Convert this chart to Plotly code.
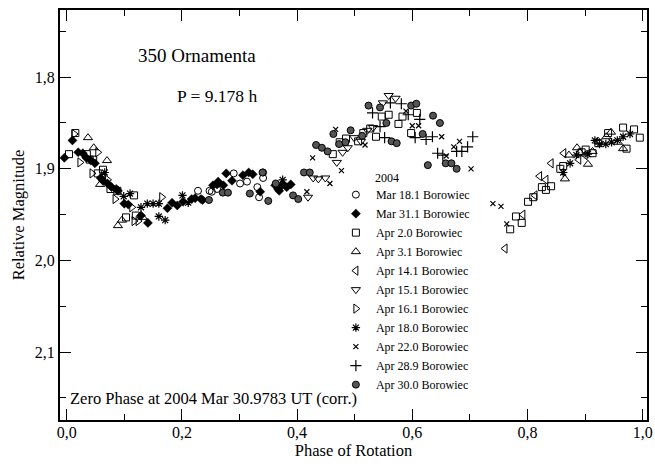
import plotly.graph_objects as go

# ---- data (phase, relative magnitude) ----
mar18_x = [0.228, 0.248, 0.252, 0.261, 0.290, 0.301, 0.313, 0.331, 0.334, 0.341, 0.341]
mar18_y = [1.924, 1.924, 1.925, 1.922, 1.905, 1.916, 1.914, 1.920, 1.931, 1.904, 1.910]

mar31_x = [-0.004, 0.010, 0.020, 0.028, 0.034, 0.042, 0.049, 0.059, 0.063, 0.071, 0.078, 0.086,
           0.089, 0.100, 0.107, 0.129, 0.141, 0.175, 0.183, 0.192, 0.202, 0.217, 0.223, 0.233,
           0.236, 0.254, 0.261, 0.263, 0.272, 0.277, 0.287, 0.306, 0.316, 0.323, 0.336, 0.362,
           0.367, 0.369, 0.375, 0.382, 0.389]
mar31_y = [1.888, 1.869, 1.882, 1.883, 1.888, 1.891, 1.894, 1.910, 1.913, 1.916, 1.920, 1.922,
           1.924, 1.938, 1.939, 1.951, 1.959, 1.943, 1.937, 1.940, 1.936, 1.933, 1.932, 1.933,
           1.934, 1.918, 1.917, 1.914, 1.918, 1.905, 1.913, 1.907, 1.904, 1.906, 1.925, 1.918,
           1.922, 1.924, 1.917, 1.920, 1.917]

apr02_x = [0.004, 0.015, 0.035, 0.040, 0.046, 0.054, 0.063, 0.076, 0.088, 0.103, 0.117, 0.120,
           0.462, 0.474, 0.485, 0.506, 0.515, 0.527, 0.537, 0.547, 0.559, 0.576, 0.583, 0.598, 0.608,
           0.770, 0.780, 0.790, 0.801, 0.810, 0.825, 0.832, 0.841, 0.857, 0.862, 0.894, 0.901,
           0.913, 0.923, 0.940, 0.966, 0.972, 0.985, 0.995]
apr02_y = [1.884, 1.861, 1.884, 1.890, 1.890, 1.905, 1.901, 1.922, 1.924, 1.953, 1.929, 1.951,
           1.884, 1.871, 1.867, 1.870, 1.861, 1.856, 1.865, 1.843, 1.841, 1.851, 1.843, 1.861, 1.839,
           1.966, 1.952, 1.959, 1.936, 1.931, 1.920, 1.923, 1.919, 1.900, 1.897, 1.882, 1.879,
           1.883, 1.872, 1.861, 1.855, 1.878, 1.857, 1.866]

apr03_x = [0.037, 0.047, 0.070, 0.058, 0.089, 0.096, 0.132,
           0.865, 0.872, 0.886, 0.891, 0.905, 0.913, 0.923, 0.937, 0.945, 0.957, 0.966]
apr03_y = [1.866, 1.877, 1.891, 1.917, 1.962, 1.956, 1.953,
           1.911, 1.885, 1.877, 1.882, 1.895, 1.881, 1.870, 1.865, 1.860, 1.871, 1.878]

apr14_x = [0.761, 0.792, 0.813, 0.821, 0.832, 0.841, 0.863, 0.889, 0.900]
apr14_y = [1.987, 1.950, 1.929, 1.908, 1.912, 1.894, 1.883, 1.890, 1.885]

apr15_x = [0.419, 0.428, 0.437, 0.449, 0.469, 0.479, 0.488, 0.499, 0.511, 0.522, 0.532,
           0.549, 0.559, 0.571]
apr15_y = [1.931, 1.910, 1.911, 1.910, 1.893, 1.882, 1.877, 1.866, 1.870, 1.858, 1.855,
           1.828, 1.820, 1.823]

apr16_x = [0.013, 0.054, 0.023, 0.044, 0.071, 0.084, 0.113, 0.117, 0.124, 0.165]
apr16_y = [1.862, 1.882, 1.893, 1.905, 1.912, 1.933, 1.942, 1.957, 1.957, 1.931]

apr18_x = [0.066, 0.099, 0.110, 0.129, 0.140, 0.150, 0.160, 0.160, 0.171, 0.201, 0.211, 0.375,
           0.862, 0.874, 0.885, 0.905, 0.917, 0.925, 0.936, 0.946, 0.956, 0.966, 0.978]
apr18_y = [1.904, 1.930, 1.927, 1.942, 1.938, 1.938, 1.938, 1.952, 1.956, 1.929, 1.937, 1.912,
           1.904, 1.894, 1.885, 1.884, 1.869, 1.873, 1.873, 1.871, 1.869, 1.865, 1.862]

apr22_x = [0.417, 0.427, 0.457, 0.467, 0.477, 0.518, 0.589, 0.600, 0.611, 0.651, 0.659, 0.672,
           0.682, 0.702, 0.740, 0.754, 0.764]
apr22_y = [1.925, 1.888, 1.916, 1.857, 1.902, 1.874, 1.837, 1.853, 1.853, 1.865, 1.886, 1.876,
           1.870, 1.900, 1.938, 1.941, 1.960]

apr28_x = [0.531, 0.544, 0.552, 0.562, 0.581, 0.593, 0.605, 0.613, 0.624, 0.635, 0.644, 0.653,
           0.677, 0.686, 0.696, 0.705]
apr28_y = [1.839, 1.854, 1.866, 1.828, 1.829, 1.841, 1.866, 1.846, 1.868, 1.865, 1.883, 1.885,
           1.881, 1.881, 1.876, 1.865]

apr30_x = [0.247, 0.271, 0.280, 0.318, 0.340, 0.350, 0.363, 0.393, 0.402, 0.412, 0.422, 0.433,
           0.443, 0.453, 0.463, 0.473, 0.484, 0.493, 0.513, 0.524, 0.544, 0.555, 0.564, 0.573,
           0.598, 0.607, 0.618, 0.627, 0.636, 0.648, 0.658, 0.668, 0.677]
apr30_y = [1.934, 1.926, 1.926, 1.927, 1.904, 1.935, 1.916, 1.929, 1.933, 1.904, 1.904, 1.874,
           1.877, 1.881, 1.862, 1.873, 1.871, 1.858, 1.864, 1.831, 1.833, 1.850, 1.870, 1.872,
           1.831, 1.829, 1.862, 1.896, 1.842, 1.850, 1.894, 1.894, 1.900]

series_names = ["Mar 18.1 Borowiec", "Mar 31.1 Borowiec", "Apr 2.0 Borowiec", "Apr 3.1 Borowiec",
                "Apr 14.1 Borowiec", "Apr 15.1 Borowiec", "Apr 16.1 Borowiec", "Apr 18.0 Borowiec",
                "Apr 22.0 Borowiec", "Apr 28.9 Borowiec", "Apr 30.0 Borowiec"]
series_x = [mar18_x, mar31_x, apr02_x, apr03_x, apr14_x, apr15_x, apr16_x, apr18_x, apr22_x, apr28_x, apr30_x]
series_y = [mar18_y, mar31_y, apr02_y, apr03_y, apr14_y, apr15_y, apr16_y, apr18_y, apr22_y, apr28_y, apr30_y]

x_ticks = [0.0, 0.2, 0.4, 0.6, 0.8, 1.0]
y_ticks = [1.8, 1.9, 2.0, 2.1]

# ---- styles ----
styles = [
    dict(symbol="circle-open", size=7, color="black", line=dict(width=1, color="black")),
    dict(symbol="diamond", size=7, color="black", line=dict(width=0.5, color="black")),
    dict(symbol="square-open", size=7, color="black", line=dict(width=1, color="black")),
    dict(symbol="triangle-up-open", size=8, color="black", line=dict(width=1, color="black")),
    dict(symbol="triangle-left-open", size=8, color="black", line=dict(width=1, color="black")),
    dict(symbol="triangle-down-open", size=8, color="black", line=dict(width=1, color="black")),
    dict(symbol="triangle-right-open", size=8, color="black", line=dict(width=1, color="black")),
    dict(symbol="asterisk-open", size=7, color="black", line=dict(width=1.2, color="black")),
    dict(symbol="x-thin-open", size=5, color="black", line=dict(width=1.2, color="black")),
    dict(symbol="cross-thin-open", size=8, color="black", line=dict(width=1.2, color="black")),
    dict(symbol="circle", size=7, color="#555555", line=dict(width=1, color="black")),
]

SERIF = "Liberation Serif"

fig = go.Figure()
for name, xs, ys, st in zip(series_names, series_x, series_y, styles):
    fig.add_trace(go.Scatter(x=xs, y=ys, mode="markers", name=name, marker=st))

axis_common = dict(
    showline=True, linewidth=2, linecolor="black", mirror="ticks",
    ticks="inside", ticklen=11, tickwidth=1, tickcolor="black",
    showgrid=False, zeroline=False, automargin=False,
    tickfont=dict(family=SERIF, size=16, color="black"),
    tickformat=".1f", ticklabeloverflow="allow",
)

fig.update_layout(
    width=655, height=466,
    margin=dict(l=60, r=8, t=10, b=46),
    paper_bgcolor="white", plot_bgcolor="white",
    separators=", ",
    font=dict(family=SERIF, color="black"),
    xaxis=dict(range=[-0.0116, 1.0075], tickvals=x_ticks, ticklabelstandoff=-3,
               minor=dict(dtick=0.1, tick0=0, ticks="inside", ticklen=6, tickcolor="black", showgrid=False),
               title=dict(text="Phase of Rotation", font=dict(family=SERIF, size=16.5), standoff=2),
               **axis_common),
    yaxis=dict(range=[2.1741, 1.7267], tickvals=y_ticks,
               minor=dict(dtick=0.05, tick0=1.8, ticks="inside", ticklen=6, tickcolor="black", showgrid=False),
               title=dict(text="Relative Magnitude", font=dict(family=SERIF, size=16.5), standoff=6),
               **axis_common),
    showlegend=True,
    legend=dict(x=0.470, y=0.585, xanchor="left", yanchor="top",
                font=dict(family=SERIF, size=12, color="black"),
                bgcolor="rgba(0,0,0,0)", borderwidth=0),
    annotations=[
        dict(text="350 Ornamenta", x=0.2334, y=0.890, xref="paper", yref="paper",
             xanchor="center", yanchor="middle", showarrow=False, font=dict(family=SERIF, size=19)),
        dict(text="P = 9.178 h", x=0.2675, y=0.790, xref="paper", yref="paper",
             xanchor="center", yanchor="middle", showarrow=False, font=dict(family=SERIF, size=17.5)),
        dict(text="Zero Phase at 2004 Mar 30.9783 UT (corr.)", x=0.0135, y=0.053,
             xref="paper", yref="paper", xanchor="left", yanchor="middle", showarrow=False,
             font=dict(family=SERIF, size=16.5)),
        dict(text="2004", x=0.533, y=0.591, xref="paper", yref="paper", xanchor="left",
             yanchor="middle", showarrow=False, font=dict(family=SERIF, size=12)),
    ],
)

fig.write_html("out.html")
